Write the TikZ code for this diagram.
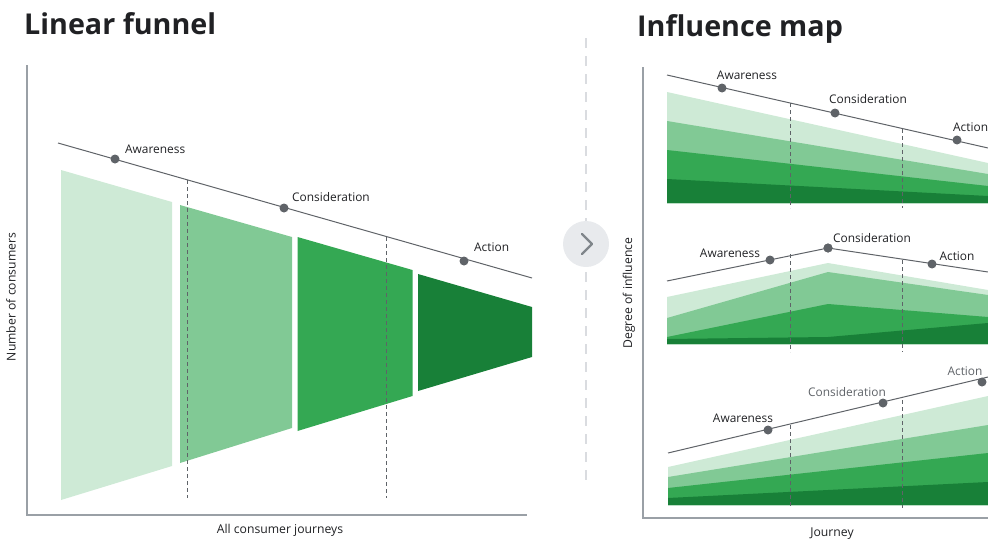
\documentclass[tikz,border=0pt]{standalone}
\usepackage{fontspec}
\setmainfont{Open Sans}
\newfontfamily\titlefont{Open Sans}
\definecolor{gA}{HTML}{CEEAD6}
\definecolor{gB}{HTML}{81C995}
\definecolor{gC}{HTML}{34A853}
\definecolor{gD}{HTML}{188038}
\definecolor{lineg}{HTML}{5F6368}
\definecolor{axisg}{HTML}{9AA0A6}
\definecolor{txt}{HTML}{202124}
\definecolor{sepg}{HTML}{DADCE0}
\definecolor{circg}{HTML}{E8EAED}
\definecolor{chevg}{HTML}{80868B}
\tikzset{
  titletext/.style={font=\titlefont\bfseries\fontsize{28.7}{30}\selectfont, text=txt, inner sep=0pt, anchor=base west},
  lbl/.style={font=\fontsize{11.9}{13}\selectfont, text=txt, inner sep=0pt},
  axlbl/.style={font=\fontsize{12.2}{13}\selectfont, text=txt, inner sep=0pt},
  dot/.style={circle, fill=lineg, minimum size=9pt, inner sep=0pt},
  trend/.style={draw=lineg, line width=1pt},
  guide/.style={draw=lineg, line width=0.8pt, dash pattern=on 4pt off 3pt},
  axisline/.style={draw=axisg, line width=1.5pt}
}
\begin{document}
\begin{tikzpicture}[x=1pt,y=-1pt]
\useasboundingbox (0,0) rectangle (988,541);

% ---------- Left: linear funnel ----------
\node[titletext] (t1) at (24,34) {Linear funnel};

\fill[gA] (61,170) -- (172,202) -- (172,466) -- (61,500) -- cycle;
\fill[gB] (180,205) -- (292,237) -- (292,428) -- (180,463) -- cycle;
\fill[gC] (297.5,237) -- (412.5,270) -- (412.5,396) -- (297.5,431) -- cycle;
\fill[gD] (418,274) -- (532,307) -- (532,357) -- (418,391) -- cycle;

\coordinate (l1s) at (58,143);
\coordinate (l1e) at (532,278);
\path[trend] (l1s) -- (l1e);
\node[dot] (a1) at (115,159) {};
\node[dot] (c1) at (284,208) {};
\node[dot] (x1) at (464,261) {};
\node[lbl, anchor=west] (a1l) at (125,149) {Awareness};
\node[lbl, anchor=west] (c1l) at (292,197) {Consideration};
\node[lbl, anchor=west] (x1l) at (474,247) {Action};

\coordinate (d1t) at (187.5,180);
\coordinate (d1b) at (187.5,498);
\coordinate (d2t) at (386,237);
\coordinate (d2b) at (386,498);
\path[guide] (d1t) -- (d1b);
\path[guide] (d2t) -- (d2b);

\coordinate (ya1) at (27,65);
\coordinate (o1) at (27,515);
\coordinate (xa1) at (527,515);
\path[axisline] (ya1) -- (o1) -- (xa1);
\node[axlbl, rotate=90] (yl1) at (11,297) {Number of consumers};
\node[axlbl] (xl1) at (280,530) {All consumer journeys};

% ---------- Separator ----------
\coordinate (s1) at (586,38);
\coordinate (s2) at (586,487);
\path[draw=sepg, line width=1.5pt, dash pattern=on 10pt off 8pt] (s1) -- (s2);
\node[circle, fill=circg, minimum size=46pt, inner sep=0pt] (circ) at (586,244) {};
\draw[chevg, line width=2.4pt, line cap=round, line join=round]
  ([shift={(-4,-10)}]circ.center) -- ([shift={(6,0)}]circ.center) -- ([shift={(-4,10)}]circ.center);

% ---------- Right: influence map ----------
\node[titletext] (t2) at (637,36) {Influence map};

% panel 1
\fill[gA] (667,92) -- (988,163) -- (988,203) -- (667,203) -- cycle;
\fill[gB] (667,121) -- (988,174) -- (988,203) -- (667,203) -- cycle;
\fill[gC] (667,150) -- (988,186) -- (988,203) -- (667,203) -- cycle;
\fill[gD] (667,179) -- (988,196) -- (988,203) -- (667,203) -- cycle;
\coordinate (p1s) at (667,75);
\coordinate (p1e) at (988,148);
\path[trend] (p1s) -- (p1e);
\node[dot] (a2) at (722,88) {};
\node[dot] (c2) at (835,113) {};
\node[dot] (x2) at (957,140) {};
\node[lbl] (a2l) at (747,75) {Awareness};
\node[lbl] (c2l) at (868,99) {Consideration};
\node[lbl, anchor=west] (x2l) at (953,127) {Action};
\coordinate (e1t) at (790,103);
\coordinate (e1b) at (790,208);
\coordinate (e2t) at (902,129);
\coordinate (e2b) at (902,208);
\path[guide] (e1t) -- (e1b);
\path[guide] (e2t) -- (e2b);

% panel 2
\fill[gA] (667,297) -- (828,263) -- (988,290) -- (988,344) -- (667,344) -- cycle;
\fill[gB] (667,318) -- (828,272) -- (988,295) -- (988,344) -- (667,344) -- cycle;
\fill[gC] (667,337) -- (828,304) -- (988,317) -- (988,344) -- (667,344) -- cycle;
\fill[gD] (667,339) -- (828,337) -- (988,323) -- (988,344) -- (667,344) -- cycle;
\coordinate (p2s) at (667,281);
\coordinate (p2e) at (988,272);
\node[dot] (c3) at (828,248) {};
\path[trend] (p2s) -- (c3.center) -- (p2e);
\node[dot] (a3) at (770,260) {};
\node[dot] (x3) at (932,264) {};
\node[dot] at (828,248) {};
\node[lbl] (a3l) at (730,253) {Awareness};
\node[lbl] (c3l) at (872,238) {Consideration};
\node[lbl] (x3l) at (957,256) {Action};
\coordinate (f1t) at (790,254);
\coordinate (f1b) at (790,352);
\coordinate (f2t) at (902,260);
\coordinate (f2b) at (902,352);
\path[guide] (f1t) -- (f1b);
\path[guide] (f2t) -- (f2b);

% panel 3
\fill[gA] (668,467) -- (988,396) -- (988,505) -- (668,505) -- cycle;
\fill[gB] (668,477) -- (988,425) -- (988,505) -- (668,505) -- cycle;
\fill[gC] (668,488) -- (988,453) -- (988,505) -- (668,505) -- cycle;
\fill[gD] (668,498) -- (988,482) -- (988,505) -- (668,505) -- cycle;
\coordinate (p3s) at (668,453);
\coordinate (p3e) at (988,377);
\path[trend] (p3s) -- (p3e);
\node[dot] (a4) at (768,430) {};
\node[dot] (c4) at (883,403) {};
\node[dot] (x4) at (982,382) {};
\node[lbl] (a4l) at (743,418) {Awareness};
\node[lbl, text=lineg] (c4l) at (847,392) {Consideration};
\node[lbl, text=lineg] (x4l) at (965,371) {Action};
\coordinate (g1t) at (790,425);
\coordinate (g1b) at (790,508);
\coordinate (g2t) at (902,400);
\coordinate (g2b) at (902,508);
\path[guide] (g1t) -- (g1b);
\path[guide] (g2t) -- (g2b);

% right axes
\coordinate (ya2) at (643,67);
\coordinate (o2) at (643,518);
\coordinate (xa2) at (988,518);
\path[axisline] (ya2) -- (o2) -- (xa2);
\node[axlbl, rotate=90] (yl2) at (629,293) {Degree of influence};
\node[axlbl] (xl2) at (832,534) {Journey};
\end{tikzpicture}
\end{document}
